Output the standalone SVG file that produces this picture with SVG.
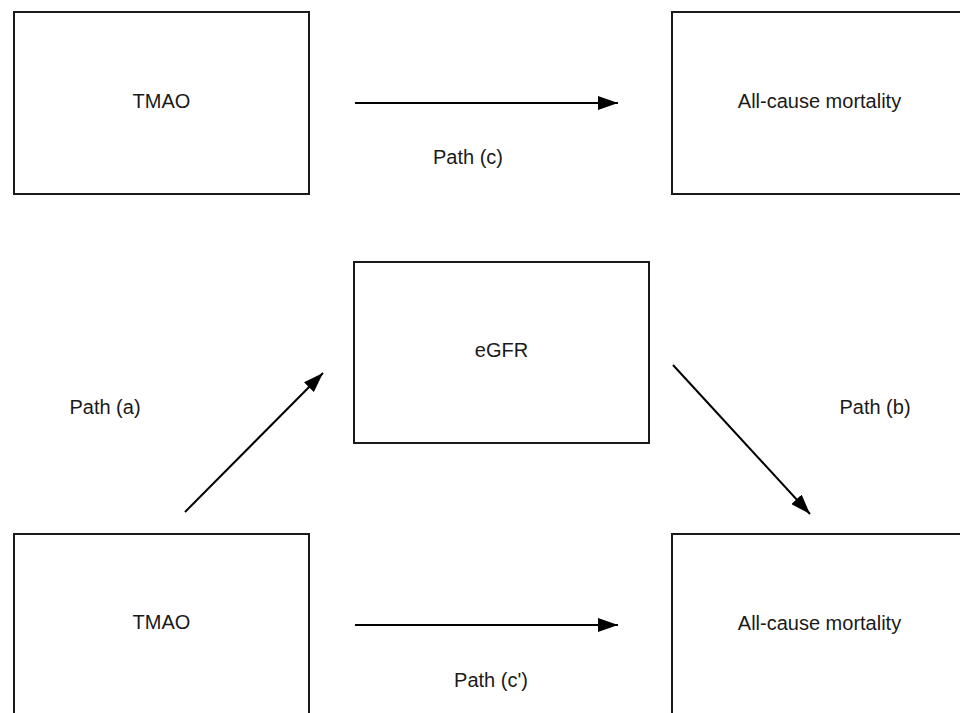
<svg xmlns="http://www.w3.org/2000/svg" width="960" height="713" viewBox="0 0 960 713">
<style>
  .box { fill: #ffffff; stroke: #1a1a1a; stroke-width: 2; }
  .lbl { font-family: "Liberation Sans", Arial, sans-serif; font-size: 20px; fill: #1a1a1a; text-anchor: middle; }
  .edge { stroke: #000000; stroke-width: 2; fill: none; marker-end: url(#arrow); }
</style>
<defs>
  <marker id="arrow" markerUnits="userSpaceOnUse" markerWidth="22" markerHeight="14" refX="20" refY="7" orient="auto">
    <path d="M0,0 L20,7 L0,14 Z" fill="#000000"/>
  </marker>
</defs>
<rect width="960" height="713" fill="#ffffff"/>
<g id="tmao-top">
  <rect class="box" x="14" y="12" width="295" height="182"/>
  <text class="lbl" x="161.5" y="108">TMAO</text>
</g>
<g id="mortality-top">
  <rect class="box" x="672" y="12" width="295" height="182"/>
  <text class="lbl" x="819.5" y="108">All-cause mortality</text>
</g>
<g id="egfr">
  <rect class="box" x="354" y="262" width="295" height="181"/>
  <text class="lbl" x="501.5" y="357">eGFR</text>
</g>
<g id="tmao-bottom">
  <rect class="box" x="14" y="534" width="295" height="190"/>
  <text class="lbl" x="161.5" y="629">TMAO</text>
</g>
<g id="mortality-bottom">
  <rect class="box" x="672" y="534" width="295" height="190"/>
  <text class="lbl" x="819.5" y="630">All-cause mortality</text>
</g>
<g id="connectors">
  <line class="edge" x1="355" y1="103" x2="618" y2="103"/>
  <line class="edge" x1="185" y1="512" x2="323" y2="373"/>
  <line class="edge" x1="673" y1="365" x2="810" y2="514"/>
  <line class="edge" x1="355" y1="625" x2="618" y2="625"/>
  <text class="lbl" x="468" y="164">Path (c)</text>
  <text class="lbl" x="105" y="414">Path (a)</text>
  <text class="lbl" x="875" y="414">Path (b)</text>
  <text class="lbl" x="491" y="687">Path (c')</text>
</g>
</svg>
